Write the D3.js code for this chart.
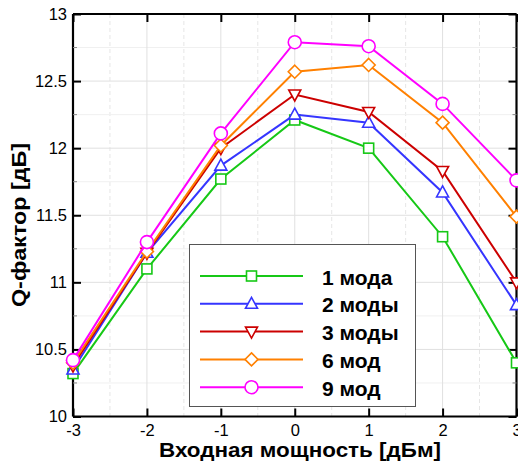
<!DOCTYPE html>
<html>
<head>
<meta charset="utf-8">
<script src="https://cdn.jsdelivr.net/npm/d3@7"></script>
<style>
  body { margin: 0; background: #fff; }
  svg { font-family: "Liberation Sans", Arial, sans-serif; }
</style>
</head>
<body>
<svg id="chart"></svg>
<script>
// Chart size
const width = 518;
const height = 463;
const margin = { top: 14, right: 1, bottom: 46, left: 73 };

// Data
const power = [-3, -2, -1, 0, 1, 2, 3];
const seriesNames = ["1 мода", "2 моды", "3 моды", "6 мод", "9 мод"];
const mode1 = [10.32, 11.10, 11.77, 12.21, 12.00, 11.34, 10.40];
const mode2 = [10.35, 11.22, 11.87, 12.25, 12.19, 11.67, 10.83];
const mode3 = [10.38, 11.22, 12.00, 12.40, 12.27, 11.83, 11.00];
const mode6 = [10.40, 11.23, 12.02, 12.57, 12.62, 12.19, 11.49];
const mode9 = [10.42, 11.30, 12.11, 12.79, 12.76, 12.33, 11.76];
const xTicks = [-3, -2, -1, 0, 1, 2, 3];
const yTicks = [10, 10.5, 11, 11.5, 12, 12.5, 13];

const colors = ["#16c816", "#3535ff", "#cc0000", "#ff8000", "#ff00ff"];
const symbols = ["square", "up", "down", "diamond", "circle"];
const allSeries = [mode1, mode2, mode3, mode6, mode9];

const svg = d3.select("#chart")
    .attr("width", width)
    .attr("height", height);

const x = d3.scaleLinear()
    .domain([-3, 3])
    .range([margin.left, width - margin.right - 0.5]);

const y = d3.scaleLinear()
    .domain([10, 13])
    .range([height - margin.bottom - 0.5, margin.top]);

const x0 = x.range()[0], x1 = x.range()[1];
const y0 = y.range()[0], y1 = y.range()[1];

// Grid
const grid = svg.append("g");
grid.selectAll("line.vmin").data(d3.range(-2.5, 3, 1)).enter().append("line")
    .attr("x1", d => x(d)).attr("x2", d => x(d))
    .attr("y1", y1).attr("y2", y0)
    .attr("stroke", "#e6e6e6").attr("stroke-dasharray", "4,3");
grid.selectAll("line.hmin").data(d3.range(10.25, 13, 0.5)).enter().append("line")
    .attr("x1", x0).attr("x2", x1)
    .attr("y1", d => y(d)).attr("y2", d => y(d))
    .attr("stroke", "#f0f0f0");
grid.selectAll("line.vmaj").data(xTicks.slice(1, -1)).enter().append("line")
    .attr("x1", d => x(d)).attr("x2", d => x(d))
    .attr("y1", y1).attr("y2", y0)
    .attr("stroke", "#e0e0e0");
grid.selectAll("line.hmaj").data(yTicks.slice(1, -1)).enter().append("line")
    .attr("x1", x0).attr("x2", x1)
    .attr("y1", d => y(d)).attr("y2", d => y(d))
    .attr("stroke", "#e0e0e0");

// Axes (ticks pointing inward on all four sides)
const tickFmt = d => String(d);
const gBottom = svg.append("g")
    .attr("transform", `translate(0,${y0})`)
    .call(d3.axisBottom(x).tickValues(xTicks).tickSize(-8).tickPadding(8).tickFormat(tickFmt));
const gTop = svg.append("g")
    .attr("transform", `translate(0,${y1})`)
    .call(d3.axisTop(x).tickValues(xTicks).tickSize(-8).tickFormat(""));
const gLeft = svg.append("g")
    .attr("transform", `translate(${x0},0)`)
    .call(d3.axisLeft(y).tickValues(yTicks).tickSize(-8).tickPadding(6).tickFormat(tickFmt));
const gRight = svg.append("g")
    .attr("transform", `translate(${x1},0)`)
    .call(d3.axisRight(y).tickValues(yTicks).tickSize(-8).tickFormat(""));

// minor y ticks
[[x0, 1], [x1, -1]].forEach(([px, dir]) => {
    svg.append("g").selectAll("line").data(d3.range(10.25, 13, 0.5)).enter().append("line")
        .attr("x1", px).attr("x2", px + dir * 4)
        .attr("y1", d => y(d)).attr("y2", d => y(d))
        .attr("stroke", "#888").attr("stroke-width", 1);
});

[gBottom, gTop, gLeft, gRight].forEach(g => {
    g.select(".domain").attr("stroke", "#000").attr("stroke-width", 2.2);
    g.selectAll(".tick line").attr("stroke", "#000").attr("stroke-width", 2);
    g.selectAll(".tick text").attr("fill", "#000").attr("font-size", 16.5);
});
// plain frame lines, no outer tick stubs
gBottom.select(".domain").attr("d", `M${x0},0H${x1}`);
gTop.select(".domain").attr("d", `M${x0},0H${x1}`);
gLeft.select(".domain").attr("d", `M0,${y0}V${y1}`);
gRight.select(".domain").attr("d", `M0,${y0}V${y1}`);

// Symbols
function drawMarker(g, type, cx, cy, color) {
    if (type === "circle") {
        g.append("circle").attr("cx", cx).attr("cy", cy).attr("r", 6.5)
            .attr("fill", "#fff").attr("stroke", color).attr("stroke-width", 1.6);
    } else if (type === "square") {
        g.append("rect").attr("x", cx - 5).attr("y", cy - 5).attr("width", 10).attr("height", 10)
            .attr("fill", "#fff").attr("stroke", color).attr("stroke-width", 1.6);
    } else {
        let pts;
        if (type === "up") pts = [[0, -6.5], [6, 4.5], [-6, 4.5]];
        else if (type === "down") pts = [[0, 6.5], [6, -4.5], [-6, -4.5]];
        else pts = [[0, -6.5], [6.5, 0], [0, 6.5], [-6.5, 0]];
        g.append("polygon")
            .attr("points", pts.map(p => [cx + p[0], cy + p[1]].join(",")).join(" "))
            .attr("fill", "#fff").attr("stroke", color).attr("stroke-width", 1.6);
    }
}

const line = d3.line().x((d, i) => x(power[i])).y(d => y(d));
const plot = svg.append("g");
allSeries.forEach((vals, si) => {
    const g = plot.append("g");
    g.append("path").datum(vals).attr("d", line)
        .attr("fill", "none").attr("stroke", colors[si]).attr("stroke-width", 2);
    vals.forEach((v, i) => drawMarker(g, symbols[si], x(power[i]), y(v), colors[si]));
});

// Legend
const legend = svg.append("g");
legend.append("rect")
    .attr("x", 189.5).attr("y", 244.5).attr("width", 226).attr("height", 162)
    .attr("fill", "#fff").attr("stroke", "#555").attr("stroke-width", 1);
seriesNames.forEach((name, i) => {
    const ly = 276 + i * 27.8;
    const g = legend.append("g");
    g.append("line").attr("x1", 200).attr("x2", 303).attr("y1", ly).attr("y2", ly)
        .attr("stroke", colors[i]).attr("stroke-width", 2);
    drawMarker(g, symbols[i], 251.5, ly, colors[i]);
    g.append("text").attr("x", 322).attr("y", ly + 8.5)
        .attr("font-size", 21).attr("font-weight", "bold").attr("fill", "#000")
        .text(name);
});

// Axis titles
svg.append("text")
    .attr("x", 159).attr("y", 456.5)
    .attr("font-size", 20).attr("font-weight", "bold")
    .attr("textLength", 282).attr("lengthAdjust", "spacingAndGlyphs")
    .text("Входная мощность [дБм]");
svg.append("text")
    .attr("transform", `translate(26,307) rotate(-90)`)
    .attr("font-size", 20).attr("font-weight", "bold")
    .attr("textLength", 164).attr("lengthAdjust", "spacingAndGlyphs")
    .text("Q-фактор [дБ]");
</script>
</body>
</html>
